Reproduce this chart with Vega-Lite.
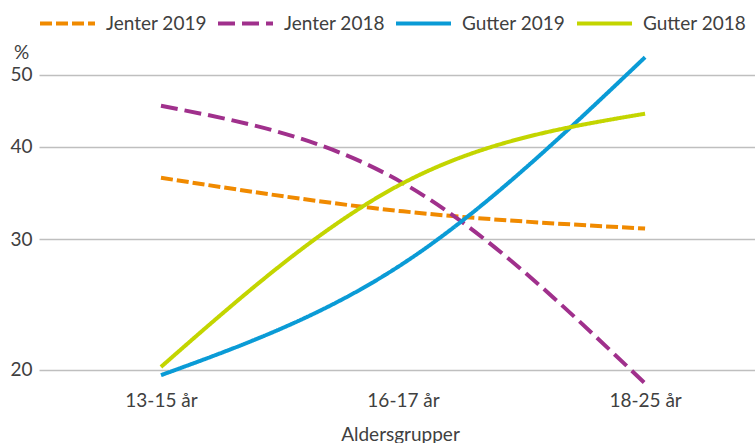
{
  "$schema": "https://vega.github.io/schema/vega-lite/v6.json",
  "width": 716,
  "height": 336,
  "autosize": {"type": "none"},
  "padding": {"left": 39, "top": 50, "right": 0, "bottom": 57},
  "background": "white",
  "config": {"view": {"stroke": null}, "font": "Lato"},
  "data": {
    "values": [
      {"series": "Jenter 2019", "age": "13-15 år", "pct": 36.3},
      {"series": "Jenter 2019", "age": "16-17 år", "pct": 32.7},
      {"series": "Jenter 2019", "age": "18-25 år", "pct": 31.0},
      {"series": "Jenter 2018", "age": "13-15 år", "pct": 45.4},
      {"series": "Jenter 2018", "age": "16-17 år", "pct": 35.7},
      {"series": "Jenter 2018", "age": "18-25 år", "pct": 19.15},
      {"series": "Gutter 2019", "age": "13-15 år", "pct": 19.65},
      {"series": "Gutter 2019", "age": "16-17 år", "pct": 27.8},
      {"series": "Gutter 2019", "age": "18-25 år", "pct": 52.8},
      {"series": "Gutter 2018", "age": "13-15 år", "pct": 20.16},
      {"series": "Gutter 2018", "age": "16-17 år", "pct": 35.7},
      {"series": "Gutter 2018", "age": "18-25 år", "pct": 44.3}
    ]
  },
  "mark": {"type": "line", "interpolate": "monotone", "strokeWidth": 4, "strokeCap": "butt"},
  "encoding": {
    "x": {
      "field": "age",
      "type": "ordinal",
      "sort": ["13-15 år", "16-17 år", "18-25 år"],
      "scale": {"type": "point", "padding": 0.479, "align": 0.526},
      "axis": {
        "title": "Aldersgrupper",
        "labelAngle": 0,
        "labelFont": "Lato",
        "labelFontSize": 19,
        "labelColor": "#404040",
        "labelPadding": 5,
        "ticks": false,
        "tickSize": 0,
        "domain": false,
        "grid": false,
        "titleFont": "Lato",
        "titleFontSize": 19,
        "titleFontWeight": "normal",
        "titleColor": "#404040",
        "titleX": 361,
        "titleY": 54,
        "titleAlign": "center",
        "titleBaseline": "alphabetic"
      }
    },
    "y": {
      "field": "pct",
      "type": "quantitative",
      "scale": {"type": "log", "domain": [19, 54], "nice": false},
      "axis": {
        "title": "%",
        "titleAngle": 0,
        "titleX": -18,
        "titleY": 8,
        "titleAlign": "center",
        "titleBaseline": "alphabetic",
        "titleFont": "Lato",
        "titleFontSize": 19,
        "titleFontWeight": "normal",
        "titleColor": "#404040",
        "values": [20, 30, 40, 50],
        "format": "d",
        "labelFont": "Lato",
        "labelFontSize": 19,
        "labelColor": "#404040",
        "labelPadding": 7,
        "ticks": false,
        "tickSize": 0,
        "domain": false,
        "grid": true,
        "gridColor": "#bfbfbf",
        "gridWidth": 1.3,
        "labelFlush": false,
        "labelOverlap": false
      }
    },
    "color": {
      "field": "series",
      "type": "nominal",
      "scale": {
        "domain": ["Jenter 2019", "Jenter 2018", "Gutter 2019", "Gutter 2018"],
        "range": ["#f08a00", "#a0308c", "#0a9bd6", "#c3d500"]
      },
      "legend": {
        "title": null,
        "orient": "none",
        "legendX": -1,
        "legendY": -56,
        "direction": "horizontal",
        "columns": 4,
        "gridAlign": "none",
        "symbolType": "stroke",
        "symbolSize": 3025,
        "symbolStrokeWidth": 4,
        "labelFont": "Lato",
        "labelFontSize": 19,
        "labelColor": "#404040",
        "labelOffset": 9,
        "columnPadding": 3,
        "padding": 0,
        "labelLimit": 200
      }
    },
    "strokeDash": {
      "field": "series",
      "type": "nominal",
      "scale": {
        "domain": ["Jenter 2019", "Jenter 2018", "Gutter 2019", "Gutter 2018"],
        "range": [[12, 4], [17, 7], [1, 0], [1, 0]]
      }
    }
  }
}
